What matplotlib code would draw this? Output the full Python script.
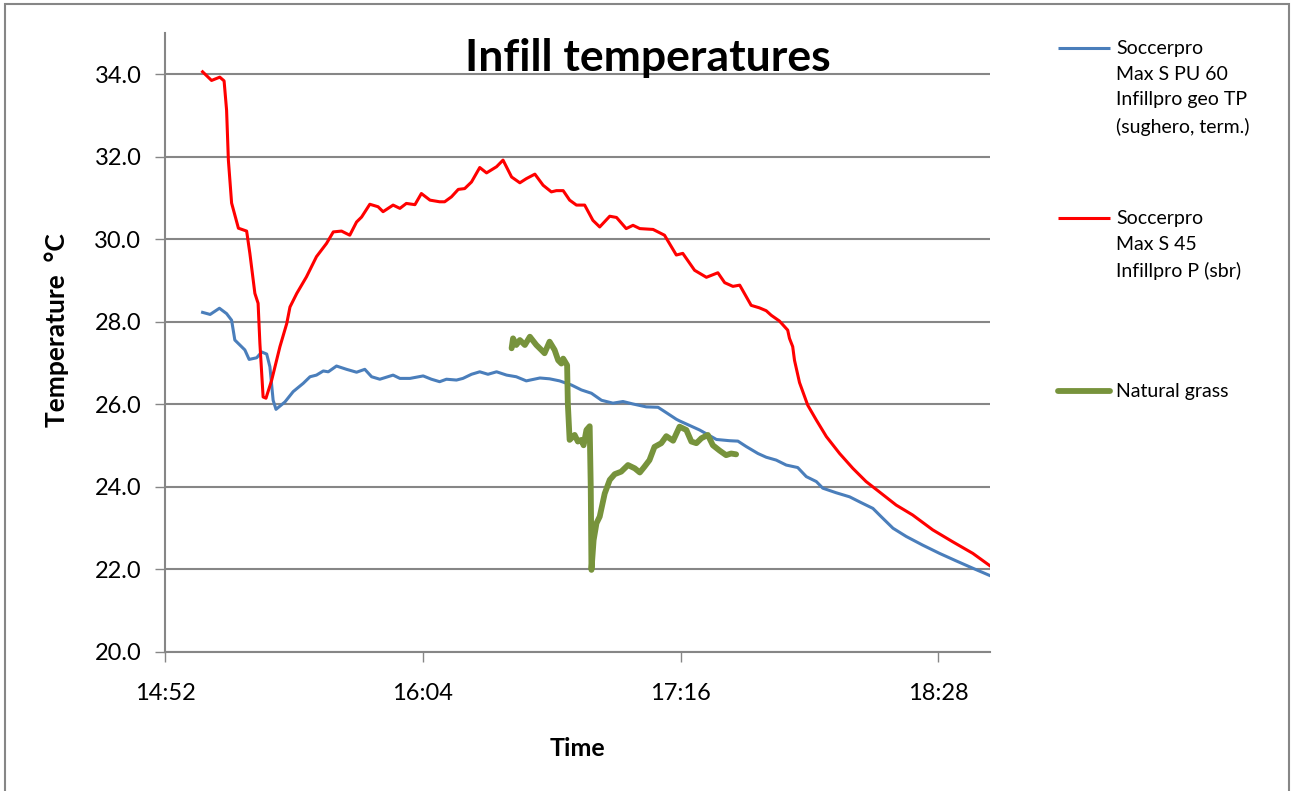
import matplotlib
matplotlib.use("Agg")
import matplotlib.pyplot as plt
from matplotlib.lines import Line2D
from matplotlib.patches import Rectangle

plt.rcParams['font.family'] = ['Lato', 'DejaVu Sans']

# time in minutes after 14:52
red_t = [10.5, 13.0, 15.3, 16.5, 17.2, 17.7, 18.6, 20.5, 22.8, 23.7, 25.1, 26.0, 26.5, 27.4, 28.2,
         29.8, 32.1, 34.0, 34.9, 36.8, 39.5, 42.3, 45.1, 47.0, 49.3, 51.6, 53.5, 54.9, 57.2, 59.5,
         60.9, 63.7, 65.6, 67.4, 69.8, 71.6, 74.0, 76.7, 78.1, 80.0, 81.9, 83.7, 85.6, 87.9, 89.8,
         92.6, 94.4, 96.8, 99.1, 100.9, 103.3, 105.6, 107.9, 109.3, 111.2, 113.0, 114.9, 117.2,
         119.5, 121.4, 124.2, 126.1, 128.8, 130.7, 132.6, 136.3, 139.5, 142.8, 144.6, 147.9, 151.2,
         154.4, 156.3, 158.6, 160.5, 163.7, 166.0, 167.9, 169.3, 171.6, 173.9, 174.4, 175.3, 175.8,
         177.2, 179.5, 181.9, 184.7, 188.4, 192.1, 195.8, 199.5, 204.2, 208.8, 214.4, 220.0, 225.6,
         230.7]
red_v = [34.06, 33.85, 33.93, 33.84, 33.13, 31.92, 30.88, 30.27, 30.20, 29.66, 28.69, 28.45, 27.48,
         26.18, 26.15, 26.59, 27.40, 27.96, 28.36, 28.69, 29.09, 29.58, 29.90, 30.18, 30.20, 30.10,
         30.42, 30.54, 30.85, 30.79, 30.67, 30.83, 30.75, 30.87, 30.84, 31.11, 30.95, 30.91, 30.91,
         31.03, 31.21, 31.23, 31.39, 31.74, 31.61, 31.76, 31.92, 31.51, 31.37, 31.47, 31.58, 31.31,
         31.15, 31.18, 31.18, 30.95, 30.83, 30.83, 30.46, 30.30, 30.56, 30.53, 30.26, 30.34, 30.26,
         30.24, 30.10, 29.62, 29.66, 29.25, 29.08, 29.19, 28.95, 28.86, 28.89, 28.40, 28.34, 28.27,
         28.16, 28.02, 27.80, 27.60, 27.40, 27.07, 26.53, 25.98, 25.62, 25.22, 24.81, 24.45, 24.13,
         23.88, 23.56, 23.32, 22.96, 22.67, 22.39, 22.07]

blue_t = [10.5, 12.6, 15.2, 17.2, 18.6, 19.5, 20.9, 22.3, 23.5, 25.6, 27.0, 28.4, 29.3, 30.2, 31.0,
          33.5, 35.8, 38.6, 40.5, 42.3, 44.2, 45.6, 47.9, 50.7, 53.5, 55.8, 57.7, 60.0, 63.7, 65.6,
          68.4, 72.1, 74.4, 76.7, 78.6, 81.4, 83.2, 85.6, 87.9, 90.2, 92.6, 95.4, 98.1, 100.9, 104.7,
          107.4, 110.2, 113.5, 116.3, 119.1, 121.9, 125.1, 127.9, 130.7, 134.4, 137.7, 140.0, 142.8,
          143.7, 149.3, 154.0, 157.7, 160.0, 162.3, 165.6, 167.9, 170.7, 173.5, 176.7, 179.1, 181.9,
          183.7, 187.4, 191.2, 194.4, 197.7, 200.0, 203.3, 207.0, 211.6, 216.3, 220.9, 225.6, 230.7]
blue_v = [28.23, 28.18, 28.33, 28.20, 28.04, 27.56, 27.44, 27.32, 27.09, 27.13, 27.27, 27.22, 26.91,
          26.10, 25.88, 26.06, 26.31, 26.51, 26.67, 26.71, 26.81, 26.79, 26.93, 26.85, 26.78, 26.85,
          26.67, 26.61, 26.71, 26.63, 26.63, 26.69, 26.61, 26.55, 26.61, 26.59, 26.63, 26.73, 26.79,
          26.73, 26.79, 26.71, 26.67, 26.57, 26.64, 26.62, 26.57, 26.47, 26.35, 26.27, 26.10, 26.03,
          26.07, 26.01, 25.94, 25.93, 25.80, 25.64, 25.60, 25.38, 25.15, 25.12, 25.11, 24.98, 24.81,
          24.72, 24.65, 24.53, 24.47, 24.25, 24.13, 23.97, 23.86, 23.76, 23.62, 23.48, 23.28, 23.00,
          22.80, 22.59, 22.39, 22.21, 22.03, 21.84]

green_t = [96.8, 97.2, 98.1, 99.1, 100.5, 101.9, 103.7, 105.1, 106.0, 107.4, 108.8, 109.8, 110.7,
           111.2, 112.3, 112.5, 113.0, 114.4, 115.3, 116.3, 116.9, 117.7, 118.6, 118.9, 119.1, 119.7,
           120.5, 121.4, 122.8, 124.2, 125.6, 127.4, 129.3, 131.2, 132.6, 133.9, 135.3, 136.7, 138.6,
           140.0, 141.9, 143.7, 145.6, 147.0, 148.4, 149.8, 151.6, 153.0, 154.9, 156.7, 158.1, 159.5]
green_v = [27.36, 27.60, 27.44, 27.56, 27.44, 27.64, 27.44, 27.32, 27.24, 27.52, 27.32, 27.07, 26.99,
           27.11, 26.95, 26.02, 25.14, 25.26, 25.10, 25.14, 25.01, 25.38, 25.47, 24.00, 21.99, 22.71,
           23.12, 23.28, 23.84, 24.17, 24.31, 24.37, 24.53, 24.45, 24.35, 24.49, 24.65, 24.97, 25.06,
           25.23, 25.12, 25.46, 25.38, 25.10, 25.06, 25.18, 25.26, 25.01, 24.88, 24.77, 24.81, 24.79]

labels = ["Soccerpro\nMax S PU 60\nInfillpro geo TP\n(sughero, term.)",
          "Soccerpro\nMax S 45\nInfillpro P (sbr)",
          "Natural grass"]
colors = ["#4A7EBB", "#FF0000", "#77933C"]
widths = [2.2, 2.2, 4.2]

tick_pos = [0, 72, 144, 216]
tick_lab = ["14:52", "16:04", "17:16", "18:28"]

fig = plt.figure(figsize=(12.91, 7.91), dpi=100)
ax = fig.add_axes([165/1291, 1 - 652/791, 825/1291, (652 - 33)/791])

ax.plot(blue_t, blue_v, color=colors[0], lw=widths[0], solid_joinstyle='round')
ax.plot(red_t, red_v, color=colors[1], lw=widths[1], solid_joinstyle='round')
ax.plot(green_t, green_v, color=colors[2], lw=widths[2], solid_joinstyle='round',
        solid_capstyle='round')

ax.set_xlim(0, 230.4)
ax.set_ylim(20, 35)
ax.set_yticks([20, 22, 24, 26, 28, 30, 32, 34])
ax.set_yticklabels([f"{v:.1f}" for v in [20, 22, 24, 26, 28, 30, 32, 34]])
ax.set_xticks(tick_pos)
ax.set_xticklabels(tick_lab)
ax.grid(axis='y', color='#868686', lw=1.5)
ax.set_axisbelow(True)
for s in ['top', 'right']:
    ax.spines[s].set_visible(False)
for s in ['left', 'bottom']:
    ax.spines[s].set_color('#868686')
    ax.spines[s].set_linewidth(1.5)
ax.tick_params(axis='both', colors='#868686', length=7, width=1, labelsize=17, labelcolor='black')
ax.tick_params(axis='y', pad=10)
ax.tick_params(axis='x', pad=15)

ax.set_xlabel("Time", fontsize=18, fontweight='bold', labelpad=24)
ax.set_ylabel("Temperature  °C", fontsize=19, fontweight='bold', labelpad=20)
ax.yaxis.set_label_coords(-0.116, 0.52)

fig.text(648/1291, 1 - 58/791, "Infill temperatures", fontsize=32, fontweight='bold',
         ha='center', va='center')

# legend
leg_y = [48, 218, 391]
for lab, c, w, y in zip(labels, colors, widths, leg_y):
    fy = 1 - y/791
    fig.add_artist(Line2D([1058/1291, 1110/1291], [fy, fy], color=c, lw=w,
                          solid_capstyle='round' if w > 3 else 'butt'))
    fig.text(1116/1291, 1 - (y - 8)/791, lab, fontsize=14, ha='left', va='top',
             linespacing=1.62)

fig.add_artist(Rectangle((5/1291, -0.05), 1284/1291, 1.05 - 4/791, transform=fig.transFigure,
                         fill=False, edgecolor='#868686', lw=1.5))

fig.savefig("out.png", dpi=100)
